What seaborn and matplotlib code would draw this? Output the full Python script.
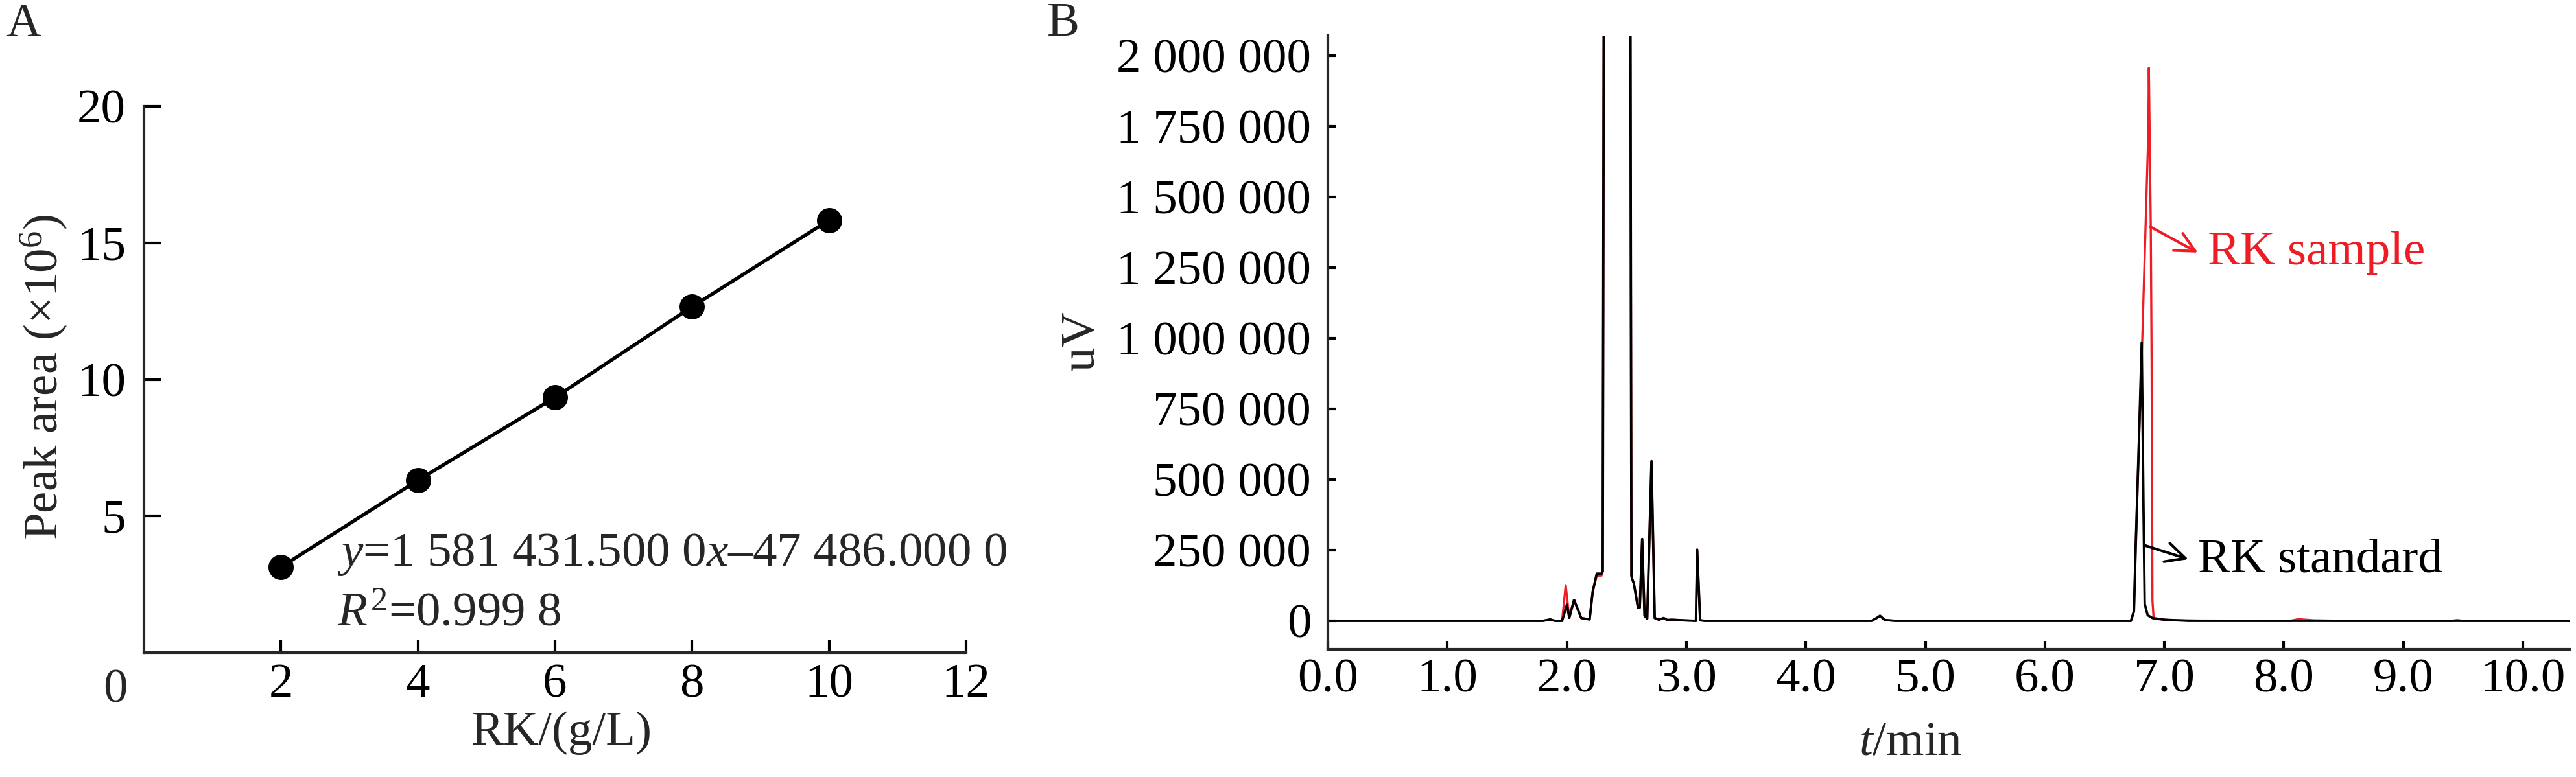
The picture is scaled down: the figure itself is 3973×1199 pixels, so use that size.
import matplotlib
matplotlib.use("Agg")
import matplotlib.pyplot as plt
import numpy as np
import pandas as pd
import seaborn as sns
from matplotlib.ticker import FuncFormatter, MultipleLocator

# --- Panel A: calibration curve ---
conc = [2, 4, 6, 8, 10]                 # RK (g/L)
area = [3.13, 6.31, 9.34, 12.66, 15.83]  # peak area (x10^6)

# --- Panel B: chromatogram, key points ---
std_t = [0.0, 1.80, 1.86, 1.90, 1.96, 2.00, 2.02, 2.06, 2.12, 2.19, 2.216, 2.25, 2.29, 2.30, 2.31,
         2.53, 2.54, 2.545, 2.56, 2.595, 2.61, 2.63, 2.65, 2.672, 2.708, 2.735, 2.77, 2.81, 2.84,
         2.88, 2.99, 3.08, 3.09, 3.115, 3.155, 4.55, 4.60, 4.62, 4.66, 4.75, 6.72, 6.745, 6.76,
         6.79, 6.81, 6.825, 6.835, 6.86, 6.90, 7.00, 7.20, 10.40]
std_v = [0, 0, 5000, 0, 0, 57000, 11000, 74000, 10000, 5000, 103000, 167000, 167000, 175000, 2500000,
         2500000, 160000, 149000, 133000, 46000, 47000, 290000, 18000, 8000, 565000, 10000, 4000, 10000, 3000,
         4000, 1500, 0, 252000, 2000, 0, 0, 12000, 18000, 3000, 0, 0, 34000, 264000,
         683000, 985000, 400000, 60000, 20000, 10000, 4000, 0, 0]

smp_t = [0.0, 1.80, 1.86, 1.90, 1.96, 1.99, 2.02, 2.06, 2.12, 2.19, 2.216, 2.25, 2.29, 2.30, 2.31,
         2.53, 2.54, 2.545, 2.56, 2.595, 2.61, 2.63, 2.65, 2.672, 2.708, 2.735, 2.77, 2.81, 2.84,
         2.88, 2.99, 3.08, 3.09, 3.115, 3.155, 4.55, 4.60, 4.62, 4.66, 4.75, 6.72, 6.745, 6.76,
         6.79, 6.815, 6.865, 6.87, 6.886, 6.893, 6.90, 6.91, 6.92, 7.03, 7.30, 8.05, 8.12, 8.25,
         8.50, 9.40, 9.45, 9.50, 10.40]
smp_v = [0, 0, 5000, 0, 0, 126000, 11000, 74000, 10000, 5000, 103000, 160000, 160000, 175000, 2500000,
         2500000, 160000, 149000, 133000, 46000, 47000, 290000, 18000, 8000, 565000, 10000, 4000, 10000, 3000,
         4000, 1500, 0, 252000, 2000, 0, 0, 12000, 18000, 3000, 0, 0, 34000, 264000,
         683000, 1000000, 1723000, 1957000, 1395000, 913000, 71000, 8000, 7000, 3000, 1000, 0, 6000, 2000,
         0, 0, 3000, 0, 0]

y_ticks_b = [0, 250000, 500000, 750000, 1000000, 1250000, 1500000, 1750000, 2000000]

sns.set_theme(style="ticks")
plt.rcParams["font.family"] = ["Liberation Serif", "DejaVu Serif"]
plt.rcParams["mathtext.fontset"] = "custom"
plt.rcParams["mathtext.rm"] = "Liberation Serif"
plt.rcParams["mathtext.it"] = "Liberation Serif:italic"
plt.rcParams["axes.linewidth"] = 1.0
FS = 18

W, H = 3973, 1199
fig = plt.figure(figsize=(W / 300, H / 300), dpi=300)

# ---------------- Panel A ----------------
axA = fig.add_axes([222 / W, 1 - 1007 / H, 1268 / W, 843 / H])
dfA = pd.DataFrame({"conc": conc, "area": area})
sns.lineplot(data=dfA, x="conc", y="area", ax=axA, color="black", linewidth=1.3)
sns.scatterplot(data=dfA, x="conc", y="area", ax=axA, color="black", s=75, edgecolor="black", zorder=3)
axA.set_xlim(0, 12)
axA.set_ylim(0, 20)
axA.set_xticks([2, 4, 6, 8, 10, 12])
axA.set_yticks([5, 10, 15, 20])
axA.tick_params(axis="x", direction="in", length=4.8, width=1.0, pad=4, labelsize=FS, colors="black")
axA.tick_params(axis="y", direction="in", length=6.5, width=1.0, pad=6.7, labelsize=FS, colors="black")
sns.despine(ax=axA)
axA.text(-0.42, -0.070, "0", transform=axA.get_xaxis_transform(), ha="center", va="center", fontsize=FS)
axA.set_xlabel("RK/(g/L)", fontsize=FS)
axA.xaxis.set_label_coords(0.508, -0.147)
axA.xaxis.label.set_va("center")
axA.set_ylabel("Peak area (×10$^{6}$)", fontsize=FS)
axA.yaxis.set_label_coords(-0.122, 0.505)
axA.yaxis.label.set_va("center")
axA.text(2.82, 3.59, "$y$=1 581 431.500 0$x$–47 486.000 0", fontsize=FS, va="center", ha="left", clip_on=False)
axA.text(2.82, 1.41, "$R^{2}$=0.999 8", fontsize=FS, va="center", ha="left")
fig.text(36 / W, 1 - 38 / H, "A", fontsize=FS, ha="center", va="center")

# ---------------- Panel B ----------------
axB = fig.add_axes([2048 / W, 1 - 1002 / H, 1915 / W, 947 / H])
dfS = pd.DataFrame({"t": smp_t, "uV": smp_v})
dfR = pd.DataFrame({"t": std_t, "uV": std_v})
sns.lineplot(data=dfS, x="t", y="uV", ax=axB, color="#ee1c25", linewidth=0.8, sort=False)
sns.lineplot(data=dfR, x="t", y="uV", ax=axB, color="black", linewidth=0.9, sort=False)
axB.set_xlim(0, 10.39)
axB.set_ylim(-100900, 2071000)
axB.set_yticks(y_ticks_b)
axB.xaxis.set_major_locator(MultipleLocator(1.0))
axB.xaxis.set_major_formatter(FuncFormatter(lambda v, p: f"{v:.1f}"))
axB.yaxis.set_major_formatter(FuncFormatter(lambda v, p: f"{int(v):,}".replace(",", " ")))
axB.tick_params(axis="x", direction="in", length=3.2, width=1.0, pad=3.4, labelsize=FS, colors="black")
axB.tick_params(axis="y", direction="in", length=3.0, width=1.0, pad=6.2, labelsize=FS, colors="black")
sns.despine(ax=axB)
axB.set_xlabel("$t$/min", fontsize=FS)
axB.xaxis.set_label_coords(0.469, -0.153)
axB.xaxis.label.set_va("center")
axB.set_ylabel("uV", fontsize=FS)
axB.yaxis.set_label_coords(-0.198, 0.502)
axB.yaxis.label.set_va("center")

axB.annotate("RK sample", xy=(7.28, 1303000), xytext=(6.88, 1395000), fontsize=FS, color="#ee1c25",
             va="center", ha="left", alpha=0)
axB.annotate("", xy=(7.28, 1303000), xytext=(6.88, 1395000),
             arrowprops=dict(arrowstyle="->", color="#ee1c25", lw=1.0, mutation_scale=18,
                             shrinkA=0, shrinkB=0))
axB.text(7.36, 1303000, "RK sample", fontsize=FS, color="#ee1c25", va="center", ha="left")
axB.annotate("", xy=(7.20, 218000), xytext=(6.835, 267000),
             arrowprops=dict(arrowstyle="->", color="black", lw=1.0, mutation_scale=18,
                             shrinkA=0, shrinkB=0))
axB.text(7.28, 213000, "RK standard", fontsize=FS, color="black", va="center", ha="left")
fig.text(1640 / W, 1 - 37 / H, "B", fontsize=FS, ha="center", va="center")

fig.savefig("out.png", dpi=300, facecolor="white")
